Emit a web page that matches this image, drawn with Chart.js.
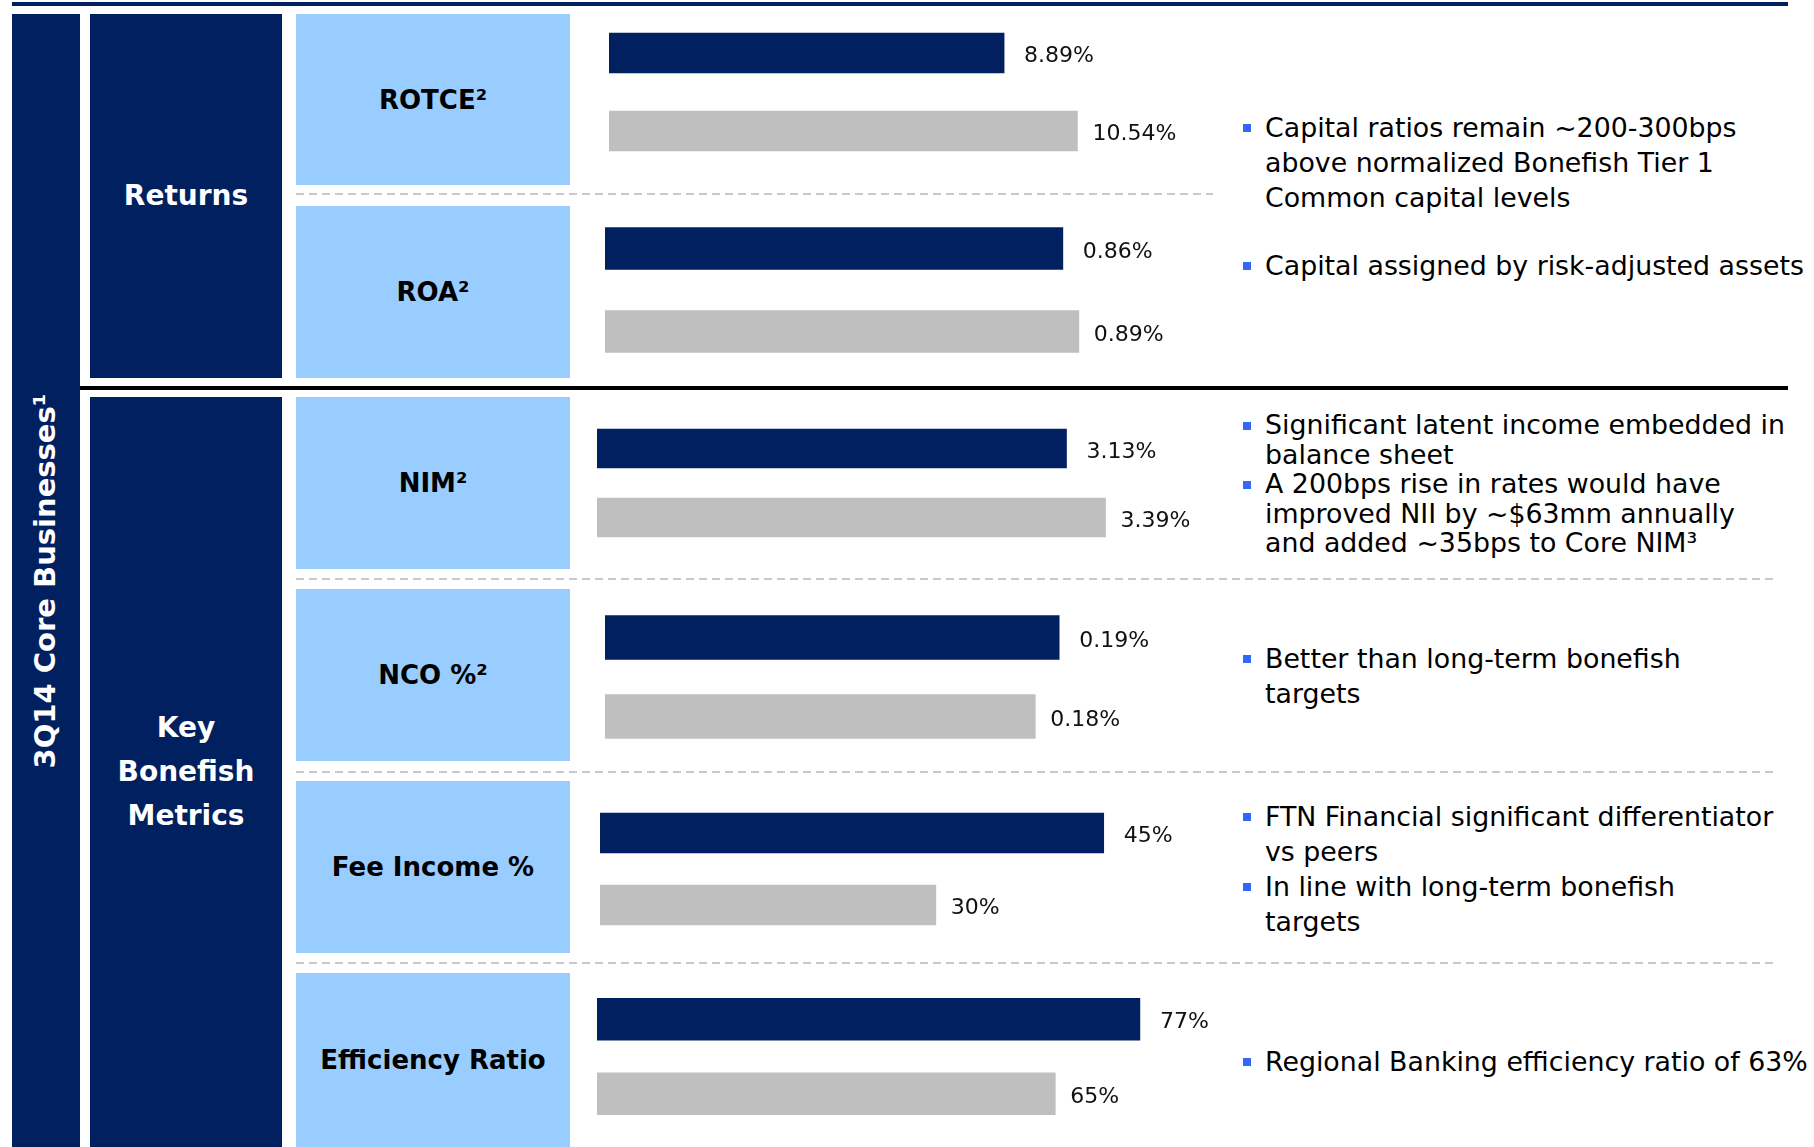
<!DOCTYPE html>
<html>
<head>
<meta charset="utf-8">
<script src="https://cdn.jsdelivr.net/npm/chart.js@4"></script>
<style>
  body { margin: 0; background: #fff; }
  #page { position: relative; width: 1814px; height: 1147px; overflow: hidden; font-family: 'DejaVu Sans', sans-serif; }
  .abs { position: absolute; }
  .navy { background: #002060; }
  .cell { position: absolute; background: #99CCFF; display: flex; align-items: center; justify-content: center;
          font-weight: bold; font-size: 26px; color: #000; white-space: nowrap; }
  .group { position: absolute; display: flex; align-items: center; justify-content: center; text-align: center;
           color: #fff; font-weight: bold; font-size: 28px; line-height: 44px; }
  .dash { position: absolute; height: 2px;
          background: repeating-linear-gradient(to right, #c8c8c8 0 8px, transparent 8px 13px); }
  .note { position: absolute; left: 1265px; font-size: 26.8px; color: #000; white-space: nowrap; }
  .note .dot { position: absolute; left: -22px; width: 8px; height: 8px; background: #3366FF; }
  canvas { position: absolute; }
</style>
</head>
<body>
<div id="page">
  <div class="abs navy" style="left:12px;top:2px;width:1776px;height:4px"></div>
  <div class="abs navy" style="left:12px;top:14px;width:68px;height:1133px"></div>
  <div class="abs" style="left:45px;top:581px;transform:translate(-50%,-50%) rotate(-90deg);color:#fff;font-weight:bold;font-size:29px;white-space:nowrap">3Q14 Core Businesses¹</div>
  <div class="group navy" style="left:90px;top:14px;width:192px;height:364px">Returns</div>
  <div class="group navy" style="left:90px;top:397px;width:192px;height:750px">Key<br>Bonefish<br>Metrics</div>
  <div class="abs" style="left:80px;top:386px;width:1708px;height:4px;background:#000"></div>
</div>
<script>
// 3Q14 core businesses vs. bonefish comparison
const metrics = ['ROTCE²', 'ROA²', 'NIM²', 'NCO %²', 'Fee Income %', 'Efficiency Ratio'];
const coreValues = [8.89, 0.86, 3.13, 0.19, 45, 77];
const compareValues = [10.54, 0.89, 3.39, 0.18, 30, 65];
const decimals = [2, 2, 2, 2, 0, 0];
const rowNames = ['Core Businesses', 'Bonefish'];

const notes = [
  { lines: ['Capital ratios remain ~200-300bps', 'above normalized Bonefish Tier 1', 'Common capital levels'], y: 127, lh: 35 },
  { lines: ['Capital assigned by risk-adjusted assets'], y: 265, lh: 35 },
  { lines: ['Significant latent income embedded in', 'balance sheet'], y: 425, lh: 30 },
  { lines: ['A 200bps rise in rates would have', 'improved NII by ~$63mm annually', 'and added ~35bps to Core NIM³'], y: 484, lh: 29.5 },
  { lines: ['Better than long-term bonefish', 'targets'], y: 658, lh: 35 },
  { lines: ['FTN Financial significant differentiator', 'vs peers'], y: 816, lh: 35 },
  { lines: ['In line with long-term bonefish', 'targets'], y: 886, lh: 35 },
  { lines: ['Regional Banking efficiency ratio of 63%'], y: 1061, lh: 35 }
];

// cell boxes and chart placement for each metric row
const cells = [[14, 185], [206, 378], [397, 569], [589, 761], [781, 953], [973, 1147]];
const layout = [
  { left: 609, top: 14,    h: 156, bar: 40, max: 13.5 },
  { left: 605, top: 206.5, h: 166, bar: 42, max: 1.127 },
  { left: 597, top: 414,   h: 138, bar: 39, max: 4.0 },
  { left: 605, top: 597.5, h: 158, bar: 44, max: 0.251 },
  { left: 600, top: 797,   h: 144, bar: 40, max: 53.6 },
  { left: 597, top: 982,   h: 149, bar: 42, max: 85.1 }
];
const dashes = [[194, 1213], [579, 1774], [772, 1774], [963, 1774]];

const page = document.getElementById('page');

cells.forEach(([t, b], i) => {
  const d = document.createElement('div');
  d.className = 'cell';
  d.style.cssText = `left:296px;top:${t}px;width:274px;height:${b - t}px`;
  d.textContent = metrics[i];
  page.appendChild(d);
});

dashes.forEach(([y, x2]) => {
  const d = document.createElement('div');
  d.className = 'dash';
  d.style.cssText = `left:296px;top:${y - 1}px;width:${x2 - 296}px`;
  page.appendChild(d);
});

notes.forEach(n => {
  const d = document.createElement('div');
  d.className = 'note';
  d.style.top = (n.y - n.lh / 2) + 'px';
  d.style.lineHeight = n.lh + 'px';
  d.innerHTML = n.lines.join('<br>');
  const dot = document.createElement('div');
  dot.className = 'dot';
  dot.style.top = (n.lh / 2 - 3) + 'px';
  d.appendChild(dot);
  page.appendChild(d);
});

// value text just past the end of each bar
const valueLabels = {
  id: 'valueLabels',
  afterDatasetsDraw(chart, args, opts) {
    const ctx = chart.ctx;
    const ds = chart.data.datasets[0];
    chart.getDatasetMeta(0).data.forEach((bar, i) => {
      ctx.save();
      ctx.font = '22px "DejaVu Sans"';
      ctx.fillStyle = '#111';
      ctx.textBaseline = 'alphabetic';
      ctx.fillText(ds.data[i].toFixed(opts.decimals) + '%', bar.x + (i === 0 ? 20 : 15), bar.y + 9);
      ctx.restore();
    });
  }
};

layout.forEach((g, i) => {
  const cv = document.createElement('canvas');
  cv.width = 640;
  cv.height = g.h;
  cv.style.left = g.left + 'px';
  cv.style.top = g.top + 'px';
  page.appendChild(cv);
  new Chart(cv, {
    type: 'bar',
    data: {
      labels: rowNames,
      datasets: [{
        data: [coreValues[i], compareValues[i]],
        backgroundColor: ['#002060', '#BFBFBF'],
        borderWidth: 0,
        barThickness: g.bar
      }]
    },
    options: {
      indexAxis: 'y',
      responsive: false,
      animation: false,
      layout: { padding: { left: 0, right: 40, top: 0, bottom: 0 } },
      plugins: {
        legend: { display: false },
        tooltip: { enabled: false },
        valueLabels: { decimals: decimals[i] }
      },
      scales: {
        x: { display: false, min: 0, max: g.max },
        y: { display: false }
      }
    },
    plugins: [valueLabels]
  });
});
</script>
</body>
</html>
